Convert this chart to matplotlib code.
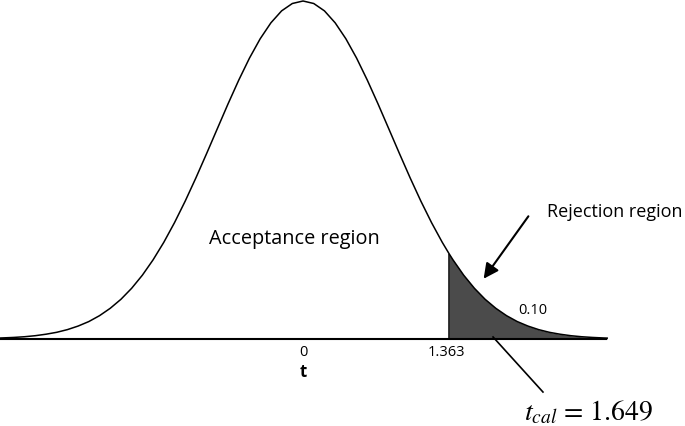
import matplotlib
matplotlib.use('Agg')
from matplotlib import pyplot as plt
import numpy as np

# curve (t value, density height)
t_vals = [-2.83, -2.7, -2.6, -2.5, -2.4, -2.3, -2.2, -2.1, -2.0, -1.9, -1.8, -1.7,
          -1.6, -1.5, -1.4, -1.3, -1.2, -1.1, -1.0, -0.9, -0.8, -0.7, -0.6, -0.5,
          -0.4, -0.3, -0.2, -0.1, 0.0, 0.1, 0.2, 0.3, 0.4, 0.5, 0.6, 0.7, 0.8,
          0.9, 1.0, 1.1, 1.2, 1.3, 1.363, 1.4, 1.5, 1.6, 1.7, 1.8, 1.9, 2.0,
          2.1, 2.2, 2.3, 2.4, 2.5, 2.6, 2.7, 2.8, 2.84]
dens = [0.0011, 0.0018, 0.0026, 0.0038, 0.0055, 0.0077, 0.0108, 0.0149, 0.0201,
        0.0269, 0.0354, 0.0458, 0.0585, 0.0736, 0.0913, 0.1115, 0.1342, 0.1591,
        0.1859, 0.2140, 0.2427, 0.2713, 0.2987, 0.3241, 0.3464, 0.3648, 0.3786,
        0.3871, 0.3900, 0.3871, 0.3786, 0.3648, 0.3464, 0.3241, 0.2987, 0.2713,
        0.2427, 0.2140, 0.1859, 0.1591, 0.1342, 0.1115, 0.0985, 0.0913, 0.0736,
        0.0585, 0.0458, 0.0354, 0.0269, 0.0201, 0.0149, 0.0108, 0.0077, 0.0055,
        0.0038, 0.0026, 0.0018, 0.0012, 0.0010]
t_crit = 1.363
t_cal = 1.649
alpha = '0.10'

t_vals = np.array(t_vals)
dens = np.array(dens)

plt.rcParams['font.family'] = ['Open Sans', 'DejaVu Sans']
plt.rcParams['mathtext.fontset'] = 'stix'

fig = plt.figure(figsize=(6.85, 4.27), dpi=100)
ax = fig.add_axes([0, 0, 1, 1])
ax.set_xlim(-2.829, 3.566)
ax.set_ylim(-0.1004, 0.3923)
ax.axis('off')

# curve + baseline
ax.plot(t_vals, dens, color='black', lw=1.1)
ax.hlines(0, t_vals[0], t_vals[-1], color='black', lw=1.5)

# rejection tail
mask = t_vals >= t_crit
ax.fill_between(t_vals[mask], 0, dens[mask], color='#4b4b4b', lw=0)
ax.vlines(t_crit, 0, dens[t_vals == t_crit][0], color='black', lw=1.1)

ax.text(-0.079, 0.1165, 'Acceptance region', ha='center', va='center', fontsize=14.3)
ax.text(2.278, 0.1477, 'Rejection region', ha='left', va='center', fontsize=13)
ax.annotate('', xy=(1.671, 0.0669), xytext=(2.119, 0.1442),
            arrowprops=dict(arrowstyle='-|>,head_length=0.9,head_width=0.45',
                            color='black', lw=1.5))
ax.text(2.147, 0.0335, alpha, ha='center', va='center', fontsize=10.5)

ax.text(0, -0.015, '0', ha='center', va='center', fontsize=10.5)
ax.text(t_crit - 0.028, -0.015, str(t_crit), ha='center', va='center', fontsize=10.5)
ax.text(0, -0.0365, 't', ha='center', va='center', fontsize=12, fontweight='bold')

# pointer to t_cal
ax.plot([1.774, 2.240], [0.0023, -0.0612], color='black', lw=1.2)
ax.text(2.661, -0.0842, r'$t_{cal}$ = ' + str(t_cal), ha='center', va='center',
        fontsize=20, family='STIXGeneral')

fig.savefig('out.png', dpi=100)
